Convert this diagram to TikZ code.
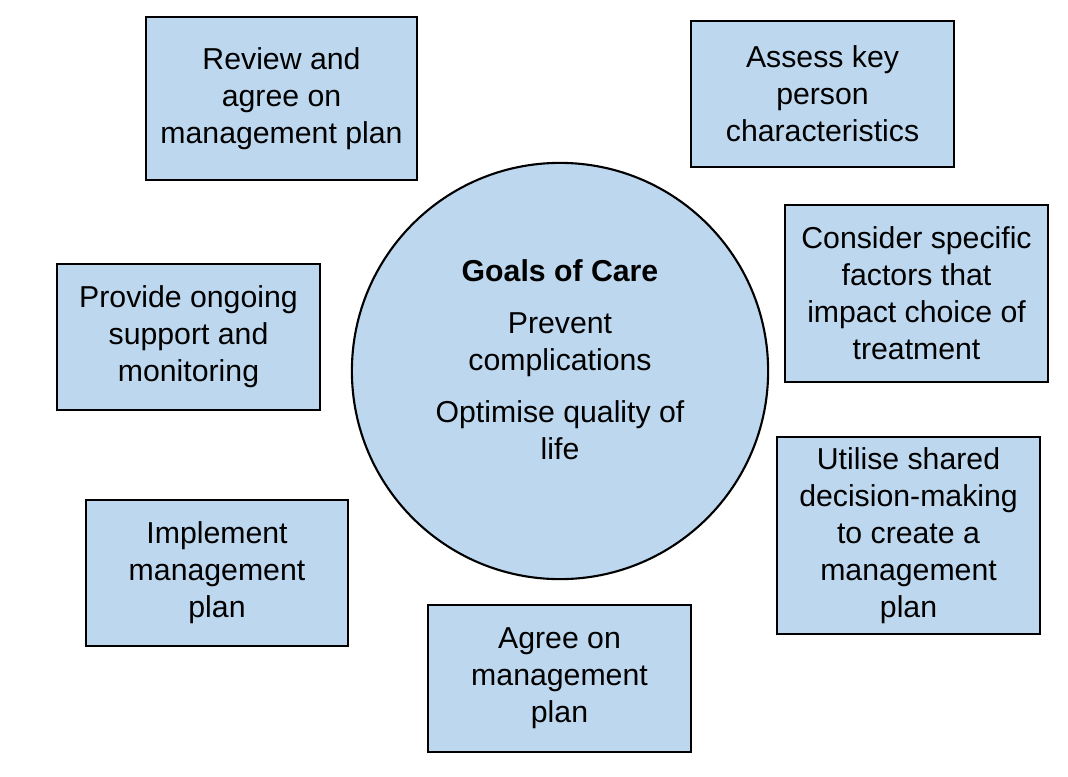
\documentclass[tikz,border=0pt]{standalone}
\usepackage{fontspec}
\setmainfont{Liberation Sans}
\definecolor{boxblue}{HTML}{BDD7EE}
\tikzset{
  carebox/.style={draw, fill=boxblue, line width=0.6pt, align=center,
    font=\fontsize{8.6pt}{10.5pt}\selectfont, inner sep=0pt},
  goal/.style={circle, draw, fill=boxblue, line width=0.6pt, align=center,
    font=\fontsize{8.6pt}{10.5pt}\selectfont, minimum size=4.16cm}
}
\begin{document}
\begin{tikzpicture}[x=0.01cm, y=-0.01cm]
  \useasboundingbox (0,0) rectangle (1068,776);

  \node[goal] (care) at (560,371) {};
  \node[align=center, font=\fontsize{8.6pt}{10.5pt}\selectfont] (caretext) at (560,360)
    {\textbf{Goals of Care}\\[1.5mm] Prevent\\complications\\[1.5mm] Optimise quality of\\life};

  \begin{scope}[every node/.append style={carebox}]
    \node[minimum width=2.71cm, minimum height=1.63cm] (review) at (281.5,98.5) {Review and\\agree on\\management plan};
    \node[minimum width=2.63cm, minimum height=1.46cm] (assess) at (822.5,94) {Assess key\\person\\characteristics};
    \node[minimum width=2.63cm, minimum height=1.77cm] (consider) at (916.5,293.5) {Consider specific\\factors that\\impact choice of\\treatment};
    \node[minimum width=2.63cm, minimum height=1.97cm] (utilise) at (908.5,535.5) {Utilise shared\\decision-making\\to create a\\management\\plan};
    \node[minimum width=2.63cm, minimum height=1.47cm] (agree) at (559.5,678.5) {Agree on\\management\\plan};
    \node[minimum width=2.62cm, minimum height=1.46cm] (implement) at (217,573) {Implement\\management\\plan};
    \node[minimum width=2.63cm, minimum height=1.46cm] (provide) at (188.5,337) {Provide ongoing\\support and\\monitoring};
  \end{scope}
\end{tikzpicture}
\end{document}
